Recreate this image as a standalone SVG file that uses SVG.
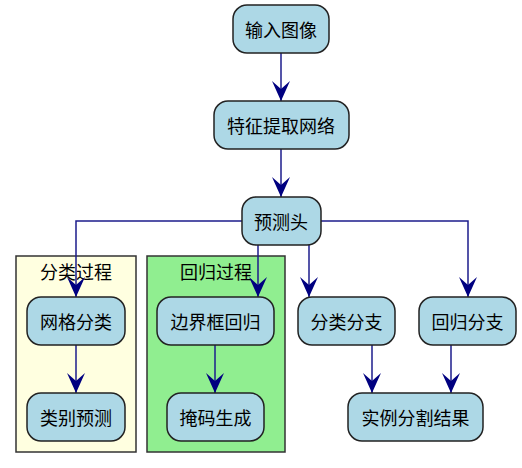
<svg xmlns="http://www.w3.org/2000/svg" width="522" height="468" viewBox="0 0 522 468">
<defs>
<style>
.node rect{fill:#ADD8E6;stroke:#222;stroke-width:1.5}
.cl{stroke:#333;stroke-width:1.5}
text{font-family:"Noto Sans CJK SC","Noto Sans",sans-serif;font-size:18px;fill:#000;text-anchor:middle}
.edge{fill:none;stroke:#1c1c8c;stroke-width:1.5;marker-end:url(#ah)}
</style>
<marker id="ah" viewBox="-20 -10 21 20" refX="0" refY="0" markerWidth="21" markerHeight="20" markerUnits="userSpaceOnUse" orient="auto">
<path d="M0,0 L-20,-9 L-12,0 L-20,9 Z" fill="#000080"/>
</marker>
</defs>
<rect width="522" height="468" fill="#fff"/>
<g id="cluster_cls">
<rect class="cl" x="16" y="256" width="120" height="196" fill="#FFFFE0"/>
<text x="76" y="279">分类过程</text>
</g>
<g id="cluster_reg">
<rect class="cl" x="147" y="256" width="138" height="196" fill="#90EE90"/>
<text x="216" y="279">回归过程</text>
</g>
<g id="connectors">
<path class="edge" d="M281,53 V101"/>
<path class="edge" d="M281,149 V197"/>
<path class="edge" d="M242,221 H76 V297"/>
<path class="edge" d="M258,245 V297"/>
<path class="edge" d="M309,245 V297"/>
<path class="edge" d="M321,221 H468 V297"/>
<path class="edge" d="M76,345 V393"/>
<path class="edge" d="M215,345 V393"/>
<path class="edge" d="M372,345 V393"/>
<path class="edge" d="M451,345 V393"/>
</g>
<g id="input" class="node"><rect x="233" y="5" width="96" height="48" rx="14"/><text x="281" y="37">输入图像</text></g>
<g id="backbone" class="node"><rect x="214" y="101" width="135" height="48" rx="14"/><text x="281" y="133">特征提取网络</text></g>
<g id="head" class="node"><rect x="242" y="197" width="79" height="48" rx="14"/><text x="281" y="229">预测头</text></g>
<g id="grid_cls" class="node"><rect x="27" y="297" width="98" height="48" rx="14"/><text x="76" y="329">网格分类</text></g>
<g id="cat_pred" class="node"><rect x="27" y="393" width="98" height="48" rx="14"/><text x="76" y="425">类别预测</text></g>
<g id="bbox_reg" class="node"><rect x="157" y="297" width="117" height="48" rx="14"/><text x="215.5" y="329">边界框回归</text></g>
<g id="mask_gen" class="node"><rect x="167" y="393" width="97" height="48" rx="14"/><text x="215.5" y="425">掩码生成</text></g>
<g id="cls_branch" class="node"><rect x="298" y="297" width="97" height="48" rx="14"/><text x="346.5" y="329">分类分支</text></g>
<g id="reg_branch" class="node"><rect x="419" y="297" width="97" height="48" rx="14"/><text x="467.5" y="329">回归分支</text></g>
<g id="result" class="node"><rect x="348" y="393" width="135" height="48" rx="14"/><text x="415.5" y="425">实例分割结果</text></g>
</svg>
